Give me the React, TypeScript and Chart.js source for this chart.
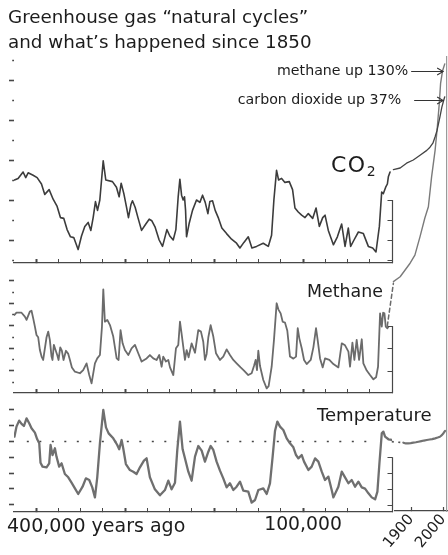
import React, { useEffect, useRef } from 'react';
import { Chart, registerables } from 'chart.js';

Chart.register(...registerables);

const FONT = '"DejaVu Sans", "Noto Sans", sans-serif';
const AXIS = '#474747';
const TEXT = '#1c1c1c';

// ---------- text ----------
const TITLE = ['Greenhouse gas “natural cycles”', 'and what’s happened since 1850'];
const NOTE_TEXTS = ['methane up 130%', 'carbon dioxide up 37%'];
const KYR_LABELS: Record<number, string> = { 100: '100,000' };

// ---------- ice-core record: [thousand years ago, value] ----------
const CO2_PALEO: number[][] = [
  [424.5, 275], [420.4, 277], [414.8, 285], [411.8, 278], [409.1, 284], [403.5, 281], [399, 278], [394.1, 270],
  [390.4, 257], [385.5, 263], [381, 251], [376.5, 242], [372.8, 228], [369, 227], [365.3, 213], [361.5, 204],
  [357.8, 203], [352.9, 188], [349.1, 205], [345.4, 217], [341.6, 222], [338.6, 212], [336, 228], [333.4, 248],
  [331.1, 237], [328.5, 250], [324.7, 299], [321.8, 275], [314.3, 273], [309.8, 266], [306.8, 254], [304.5, 271],
  [301.5, 258], [298.5, 241], [296.3, 228], [293.6, 244], [291.8, 249], [288.8, 241], [285.4, 227], [281.6, 212],
  [276.8, 220], [273, 226], [270, 224], [266.3, 216], [261.8, 200], [258, 192], [255.4, 203], [253.1, 213],
  [249.8, 205], [246, 200], [243, 213], [240.4, 254], [238.5, 276], [236.6, 256], [234.8, 250], [233.3, 254],
  [232.1, 237], [231, 204], [228, 221], [224.3, 237], [219.8, 250], [216, 247], [213, 256], [210, 247],
  [207, 233], [204.8, 248], [201.8, 249], [198.8, 237], [195, 227], [191.3, 215], [186, 208], [180.4, 201],
  [174.8, 196], [171, 190], [166.5, 197], [161.6, 204], [157.5, 190], [152.3, 192], [144.8, 196], [139.1, 192],
  [135.4, 206], [132.8, 250], [129.8, 287], [127.5, 275], [124.1, 277], [120.4, 272], [115.5, 273], [111.8, 263],
  [109.1, 240], [105.4, 235], [101.6, 231], [97.8, 228], [94.1, 233], [89.2, 227], [85.4, 240], [81.7, 217],
  [77.9, 228], [75.3, 231], [71.6, 212], [65.9, 194], [61.4, 204], [56.6, 220], [52.8, 192], [49.1, 215],
  [46.5, 192], [42.7, 200], [37.8, 210], [32.2, 208], [26.6, 192], [21.7, 190], [18, 185], [14.2, 217],
  [11.6, 260], [9.7, 258], [7.1, 266], [5.2, 270], [4.1, 279], [2.2, 285],
];

const CH4_PALEO: number[][] = [
  [424.5, 649], [422.2, 659], [416.5, 659], [412.8, 642], [410.9, 627], [407.2, 664], [405.3, 668], [403.4, 634],
  [401.5, 597], [399.7, 560], [397.8, 550], [395.9, 493], [394, 464], [392.2, 449], [388.4, 550], [386.5, 575],
  [384.7, 538], [382.8, 464], [381.7, 449], [380.2, 516], [378.3, 493], [376.4, 471], [374.9, 449], [373, 505],
  [371.2, 490], [369.3, 449], [366.6, 490], [364, 476], [362.1, 449], [359.9, 416], [356.5, 397], [350.9, 390],
  [347.2, 404], [343.4, 434], [340.4, 382], [337.8, 345], [334, 434], [331.4, 456], [328.4, 471], [326.1, 597],
  [324.6, 763], [322.8, 619], [320.1, 627], [317.1, 604], [313.4, 553], [309.6, 456], [307.4, 449], [305.2, 582],
  [302.9, 523], [300.3, 493], [296.5, 471], [292.8, 501], [289, 516], [285.3, 479], [281.5, 442], [275.9, 456],
  [272.2, 471], [268.4, 456], [264.7, 449], [261.7, 471], [259, 419], [257.2, 464], [254.2, 442], [251.5, 449],
  [249.6, 416], [245.9, 382], [242.9, 501], [240.3, 516], [238.4, 619], [236.5, 564], [234.7, 508], [232.8, 449],
  [230.9, 493], [228.7, 461], [225.3, 523], [221.5, 481], [217.8, 582], [214.8, 575], [212.2, 530], [210.3, 449],
  [208.4, 476], [206.5, 550], [203.9, 604], [200.9, 553], [197.9, 479], [193.4, 449], [189.7, 464], [185.9, 496],
  [182.2, 471], [178.4, 449], [174.7, 434], [170.2, 416], [166.4, 402], [161.6, 382], [157.8, 390], [155.2, 422],
  [153.3, 449], [151.8, 404], [150.3, 490], [148.4, 422], [144.7, 360], [140.9, 323], [138.7, 333], [135.3, 419],
  [132.7, 538], [129.7, 701], [127.8, 674], [125.2, 656], [122.9, 619], [120.3, 615], [117.7, 579], [114.7, 464],
  [110.9, 455], [107.9, 464], [106, 590], [104.2, 545], [101.5, 501], [98.9, 449], [95.9, 431], [91.4, 449],
  [88.4, 505], [85.4, 590], [83.5, 535], [80.9, 456], [77.9, 416], [75.3, 456], [70.4, 449], [65.9, 431],
  [60.3, 416], [56.5, 523], [52.8, 514], [49, 486], [47.2, 419], [44.5, 526], [42.3, 449], [39.7, 538],
  [37, 449], [34, 541], [32.2, 434], [28.4, 402], [24.7, 382], [20.9, 363], [17.9, 372], [15.7, 419],
  [13.4, 656], [11.5, 597], [10, 659], [8.5, 656], [7, 597], [5.2, 590], [4, 597],
];

const TEMP_PALEO: number[][] = [
  [424.5, 0.61], [422.2, 1.88], [419.2, 2.64], [416.5, 2.22], [413.9, 1.96], [410.9, 2.93], [407.9, 2.3], [405.3, 1.67],
  [401.5, 1.12], [398.9, 0.28], [396.6, -0.23], [395.2, -2.68], [392.9, -3.18], [388.4, -3.27], [385.4, -2.76], [383.9, -0.44],
  [381.7, -1.71], [379, -0.86], [377.2, -1.92], [374.2, -3.18], [371.5, -2.76], [367.8, -4.11], [364, -4.53], [360.3, -5.21],
  [356.5, -5.93], [352.8, -6.64], [347.9, -5.72], [344.2, -4.66], [340.4, -4.87], [337, -5.8], [334, -7.07], [331.4, -4.53],
  [328.4, -0.23], [324.6, 3.99], [321.6, 1.79], [318.6, 1.03], [313.4, 0.4], [308.9, -0.44], [306.7, -0.99], [304, 0.19],
  [302.2, -0.86], [299.2, -2.85], [294.7, -3.61], [290.9, -3.82], [287.2, -4.11], [283.4, -3.27], [278.9, -2.43], [275.9, -2.13],
  [272.2, -4.53], [266.6, -6.05], [260.9, -6.81], [255.3, -6.14], [251.5, -4.96], [247.8, -6.05], [244, -5.21], [241.4, -1.07],
  [238.4, 2.51], [235.4, -0.99], [232.8, -2.13], [229, -3.82], [225.3, -4.96], [221.5, -1.92], [217.8, -0.57], [214, -1.16],
  [210.3, -2.55], [206.5, -1.29], [203.9, -0.57], [200.9, -1.07], [197.2, -2.55], [193.4, -3.69], [189.7, -4.66], [185.9, -5.8],
  [182.2, -5.29], [178.4, -6.14], [174.7, -5.72], [170.9, -5.08], [167.2, -6.22], [161.6, -6.35], [157.8, -7.74], [154, -7.4],
  [150.3, -6.14], [144.7, -5.93], [140.9, -6.64], [137.2, -5.29], [134.2, -1.92], [131.5, 1.37], [128.9, 2.51], [125.9, 1.88],
  [122.2, 1.46], [118.4, 0.4], [114.7, -0.23], [110.9, -0.74], [107.9, -1.71], [105.3, -2.13], [101.5, -1.71], [98.9, -2.55],
  [94, -3.61], [90.3, -3.18], [86.5, -2.13], [82.8, -2.55], [79, -3.82], [75.3, -4.87], [71.5, -4.45], [67.8, -6.14],
  [65.9, -7.07], [60.3, -5.72], [56.5, -3.82], [52.8, -4.53], [49, -5.29], [45.3, -4.87], [41.5, -5.72], [37.8, -5.08],
  [34, -5.8], [30.3, -5.97], [26.5, -6.56], [22.8, -7.07], [19, -7.32], [16.4, -6.35], [14.2, -2.85], [11.5, 1.03],
  [9.7, 1.25], [7.8, 0.61], [4, 0.28], [0.3, 0.19],
];

const TEMP_REFERENCE: number[][] = [[410.6, 0], [28.1, 0]];

// ---------- since 1850: [year, value] ----------
const CO2_MODERN: number[][] = [
  [1845, 288], [1866, 290], [1886, 296], [1907, 300], [1928, 306], [1949, 312], [1959, 316], [1968, 321],
  [1975, 329], [1981, 337], [1990, 354], [1996, 366], [2002, 375], [2005, 379],
];
const CH4_BRIDGE: number[][] = [[1826, 600], [1845, 790]];
const CH4_MODERN: number[][] = [
  [1845, 797], [1866, 819], [1897, 879], [1912, 915], [1928, 997], [1943, 1080], [1954, 1130], [1964, 1263],
  [1975, 1382], [1982, 1486], [1988, 1590], [1992, 1678], [1998, 1733], [2005, 1765],
];
const TEMP_BRIDGE: number[][] = [[1840, -0.02], [1876, -0.15]];
const TEMP_MODERN: number[][] = [
  [1876, -0.15], [1884, -0.25], [1891, -0.23], [1899, -0.2], [1907, -0.15], [1915, -0.1], [1923, -0.03], [1932, 0.05],
  [1940, 0.12], [1949, 0.19], [1958, 0.25], [1966, 0.3], [1975, 0.4], [1983, 0.5], [1990, 0.6], [1996, 0.8],
  [2001, 1.05], [2006, 1.35],
];

// ---------- ticks / levels ----------
const KYR_TICKS = [0, 25, 50, 75, 100, 125, 150, 175, 200, 225, 250, 275, 300, 325, 350, 375, 400];
const YEAR_TICKS = [1900, 2000];
const CO2_TICKS = [175, 200, 225, 250, 275, 300, 325, 350, 375, 400, 425];
const CH4_TICKS = [350, 400, 450, 500, 550, 600, 650, 700, 750, 800];
const TEMP_TICKS = [-8, -6, -4, -2, 0, 2, 4];
const CO2_RIGHT = [250, 225, 200, 175];
const CH4_RIGHT = [600, 500, 400];
const TEMP_RIGHT = [-2, -4, -6, -8];
const NOTE_LEVELS = [1733, 375];

// scale ranges (ppm, ppb, degC)
const CO2_RANGE = { min: 171.25, max: 427.5 };
const CH4_RANGE = { min: 302.2, max: 840 };
const TEMP_RANGE = { min: -8.92, max: 5.25 };

// ---------- layout ----------
const CO2_BOX = { top: 58, bottom: 263 };
const CH4_BOX = { top: 272, bottom: 393 };
const TEMP_BOX = { top: 400, bottom: 512 };
const MOD_BOX = { top: 57, bottom: 511 };

const toXY = (pts: number[][]) => pts.map(([x, y]) => ({ x, y }));
const setTicks = (values: number[]) => (scale: any) => {
  scale.ticks = values.map((value) => ({ value }));
};

function extend(r: { min: number; max: number }, box: { top: number; bottom: number }, nb: { top: number; bottom: number }) {
  const per = (r.max - r.min) / (box.bottom - box.top);
  return { min: r.min - (nb.bottom - box.bottom) * per, max: r.max + (box.top - nb.top) * per };
}

const partialRightAxis = {
  id: 'partialRightAxis',
  afterDraw(chart: any, _args: any, opts: any) {
    if (!opts || !opts.ticks) return;
    const { ctx, chartArea } = chart;
    const y = chart.scales.y;
    const x = Math.round(chartArea.right) + 0.5;
    ctx.save();
    ctx.strokeStyle = AXIS;
    ctx.lineWidth = 1.2;
    ctx.beginPath();
    ctx.moveTo(x, y.getPixelForValue(opts.ticks[0]));
    ctx.lineTo(x, chartArea.bottom);
    for (const v of opts.ticks) {
      const py = Math.round(y.getPixelForValue(v)) + 0.5;
      ctx.moveTo(x, py);
      ctx.lineTo(x - 5, py);
    }
    ctx.stroke();
    ctx.restore();
  },
};

const arrowNotes = {
  id: 'arrowNotes',
  afterDatasetsDraw(chart: any, _args: any, opts: any) {
    if (!opts || !opts.notes) return;
    const { ctx } = chart;
    const xs = chart.scales.x;
    ctx.save();
    ctx.font = `14.2px ${FONT}`;
    ctx.fillStyle = TEXT;
    ctx.strokeStyle = '#333';
    ctx.lineWidth = 1.1;
    ctx.textAlign = 'right';
    ctx.textBaseline = 'middle';
    for (const n of opts.notes) {
      const y = Math.round(chart.scales[n.axis].getPixelForValue(n.value)) + 0.5;
      const tip = xs.getPixelForValue(n.year);
      const start = tip - n.shaft;
      ctx.fillText(n.text, start - n.gap, y);
      ctx.beginPath();
      ctx.moveTo(start, y);
      ctx.lineTo(tip, y);
      ctx.moveTo(tip - 6, y - 3.5);
      ctx.lineTo(tip, y);
      ctx.lineTo(tip - 6, y + 3.5);
      ctx.stroke();
    }
    ctx.restore();
  },
};

type PaleoOpts = {
  datasets: any[];
  range: { min: number; max: number };
  yTicks: number[];
  major: (v: number) => boolean;
  rightTicks: number[];
  padTop: number;
  xHeight: number;
  xLabels: boolean;
  title?: string[];
};

function paleoConfig(o: PaleoOpts): any {
  return {
    type: 'line',
    data: { datasets: o.datasets },
    options: {
      animation: false,
      responsive: false,
      events: [],
      layout: { padding: { left: 8, right: 8, top: o.padTop, bottom: 0 } },
      elements: { point: { radius: 0 }, line: { tension: 0, borderJoinStyle: 'round', borderCapStyle: 'round' } },
      plugins: {
        legend: { display: false },
        tooltip: { enabled: false },
        title: o.title
          ? {
              display: true,
              text: o.title,
              align: 'start',
              color: TEXT,
              font: { family: FONT, size: 18.3, weight: 'normal', lineHeight: '25px' },
              padding: { top: 6, bottom: 2 },
            }
          : { display: false },
        partialRightAxis: { ticks: o.rightTicks },
      },
      scales: {
        x: {
          type: 'linear',
          min: 0,
          max: 425,
          reverse: true,
          afterBuildTicks: setTicks(KYR_TICKS),
          afterFit: (s: any) => {
            s.height = o.xHeight;
            s.paddingLeft = 0;
            s.paddingRight = 0;
          },
          border: { display: true, color: AXIS, width: 1.2 },
          grid: {
            drawOnChartArea: false,
            drawTicks: true,
            tickLength: -4,
            tickColor: AXIS,
            tickWidth: (c: any) => (c.tick && c.tick.value % 100 === 0 && c.tick.value > 0 ? 2 : 1),
          },
          ticks: {
            display: o.xLabels,
            autoSkip: false,
            maxRotation: 0,
            minRotation: 0,
            padding: 6,
            color: TEXT,
            font: { family: FONT, size: 18.8 },
            callback: (v: any) => KYR_LABELS[v] ?? '',
          },
        },
        y: {
          type: 'linear',
          min: o.range.min,
          max: o.range.max,
          afterBuildTicks: setTicks(o.yTicks),
          afterFit: (s: any) => {
            s.width = 6;
            s.paddingTop = 0;
            s.paddingBottom = 0;
          },
          border: { display: false },
          grid: {
            drawOnChartArea: false,
            drawTicks: true,
            tickLength: 5,
            tickColor: AXIS,
            tickWidth: 1.6,
            tickBorderDash: (c: any) => (c.tick && o.major(c.tick.value) ? [] : [0, 3.2, 1.8, 10]),
          },
          ticks: { display: false },
        },
      },
    },
    plugins: [partialRightAxis],
  };
}

function modernConfig(): any {
  const co2 = extend(CO2_RANGE, CO2_BOX, MOD_BOX);
  const ch4 = extend(CH4_RANGE, CH4_BOX, MOD_BOX);
  const tmp = extend(TEMP_RANGE, TEMP_BOX, MOD_BOX);
  return {
    type: 'line',
    data: {
      datasets: [
        { data: toXY(CO2_MODERN), yAxisID: 'yCO2', borderColor: '#444', borderWidth: 1.3, clip: false },
        { data: toXY(CH4_MODERN), yAxisID: 'yCH4', borderColor: '#7a7a7a', borderWidth: 1.4, clip: false },
        { data: toXY(CH4_BRIDGE), yAxisID: 'yCH4', borderColor: '#6a6a6a', borderWidth: 1.5, borderDash: [4, 3], clip: false },
        { data: toXY(TEMP_MODERN), yAxisID: 'yT', borderColor: '#727272', borderWidth: 2.2, clip: false },
        { data: toXY(TEMP_BRIDGE), yAxisID: 'yT', borderColor: '#555', borderWidth: 1.6, borderDash: [2, 4.5], borderCapStyle: 'butt', clip: false },
      ],
    },
    options: {
      animation: false,
      responsive: false,
      events: [],
      layout: { padding: { left: 395, right: 1, top: MOD_BOX.top, bottom: 0 } },
      elements: { point: { radius: 0 }, line: { tension: 0, borderJoinStyle: 'round', borderCapStyle: 'round' } },
      plugins: {
        legend: { display: false },
        tooltip: { enabled: false },
        title: { display: false },
        arrowNotes: {
          notes: [
            { text: NOTE_TEXTS[0], axis: 'yCH4', value: NOTE_LEVELS[0], year: 2000, shaft: 32, gap: 3 },
            { text: NOTE_TEXTS[1], axis: 'yCO2', value: NOTE_LEVELS[1], year: 2000, shaft: 29, gap: 13 },
          ],
        },
      },
      scales: {
        x: {
          type: 'linear',
          min: 1850,
          max: 2012,
          afterBuildTicks: setTicks(YEAR_TICKS),
          afterFit: (s: any) => {
            s.height = 555 - MOD_BOX.bottom;
            s.paddingLeft = 0;
            s.paddingRight = 0;
          },
          border: { display: true, color: AXIS, width: 1.2 },
          grid: { drawOnChartArea: false, drawTicks: true, tickLength: -4, tickColor: AXIS, tickWidth: 1.2 },
          ticks: {
            autoSkip: false,
            minRotation: 50,
            maxRotation: 50,
            padding: 4,
            color: TEXT,
            font: { family: FONT, size: 15 },
            callback: (v: any) => String(v),
          },
        },
        yCO2: { type: 'linear', display: false, min: co2.min, max: co2.max },
        yCH4: { type: 'linear', display: false, min: ch4.min, max: ch4.max },
        yT: { type: 'linear', display: false, min: tmp.min, max: tmp.max },
        yEdge: {
          type: 'linear',
          position: 'right',
          min: 0,
          max: 1,
          afterFit: (s: any) => {
            s.width = 0;
          },
          border: { display: true, color: '#9a9a9a', width: 1.2 },
          grid: { drawOnChartArea: false, drawTicks: false },
          ticks: { display: false },
        },
      },
    },
    plugins: [arrowNotes],
  };
}

const labelStyle = (left: number, top: number, size: number): React.CSSProperties => ({
  position: 'absolute',
  left,
  top,
  fontSize: size,
  lineHeight: 1.2,
  fontFamily: FONT,
  color: TEXT,
  whiteSpace: 'nowrap',
});

export default function App() {
  const co2Ref = useRef<HTMLCanvasElement>(null);
  const ch4Ref = useRef<HTMLCanvasElement>(null);
  const tRef = useRef<HTMLCanvasElement>(null);
  const modRef = useRef<HTMLCanvasElement>(null);

  useEffect(() => {
    const charts: Chart[] = [];
    charts.push(
      new Chart(
        co2Ref.current!,
        paleoConfig({
          datasets: [{ data: toXY(CO2_PALEO), borderColor: '#3c3c3c', borderWidth: 1.6 }],
          range: CO2_RANGE,
          yTicks: CO2_TICKS,
          major: (v) => v % 50 === 0,
          rightTicks: CO2_RIGHT,
          padTop: 0,
          xHeight: 7,
          xLabels: false,
          title: TITLE,
        })
      )
    );
    charts.push(
      new Chart(
        ch4Ref.current!,
        paleoConfig({
          datasets: [{ data: toXY(CH4_PALEO), borderColor: '#6b6b6b', borderWidth: 1.8 }],
          range: CH4_RANGE,
          yTicks: CH4_TICKS,
          major: (v) => v % 100 === 0,
          rightTicks: CH4_RIGHT,
          padTop: 4,
          xHeight: 7,
          xLabels: false,
        })
      )
    );
    charts.push(
      new Chart(
        tRef.current!,
        paleoConfig({
          datasets: [
            { data: toXY(TEMP_PALEO), borderColor: '#6f6f6f', borderWidth: 2.3 },
            { data: toXY(TEMP_REFERENCE), borderColor: '#444', borderWidth: 1.6, borderDash: [2, 10.5], borderCapStyle: 'butt' },
          ],
          range: TEMP_RANGE,
          yTicks: TEMP_TICKS,
          major: () => true,
          rightTicks: TEMP_RIGHT,
          padTop: 4,
          xHeight: 43,
          xLabels: true,
        })
      )
    );
    charts.push(new Chart(modRef.current!, modernConfig()));
    return () => charts.forEach((c) => c.destroy());
  }, []);

  const cv = (left: number, top: number, w: number, h: number): React.CSSProperties => ({
    position: 'absolute',
    left,
    top,
    width: w,
    height: h,
  });

  return (
    <div style={{ position: 'absolute', left: 0, top: 0, width: 448, height: 555, background: '#fff', overflow: 'hidden' }}>
      <canvas ref={co2Ref} width={400} height={270} style={cv(0, 0, 400, 270)} />
      <canvas ref={ch4Ref} width={400} height={132} style={cv(0, 268, 400, 132)} />
      <canvas ref={tRef} width={400} height={159} style={cv(0, 396, 400, 159)} />
      <canvas ref={modRef} width={448} height={555} style={cv(0, 0, 448, 555)} />
      <div style={{ ...labelStyle(331, 152, 22), letterSpacing: 1.5 }}>
        CO<span style={{ fontSize: 14, position: 'relative', top: 4, letterSpacing: 0 }}>2</span>
      </div>
      <div style={labelStyle(307, 281, 17.4)}>Methane</div>
      <div style={labelStyle(317, 404, 18.1)}>Temperature</div>
      <div style={labelStyle(7, 514, 19)}>400,000 years ago</div>
    </div>
  );
}
